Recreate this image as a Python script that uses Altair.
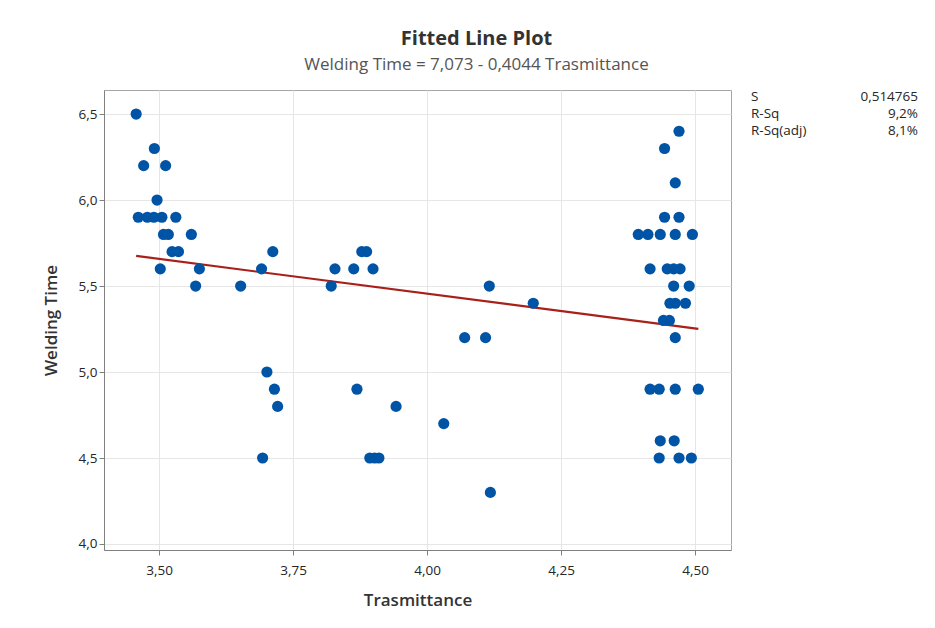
import altair as alt
import pandas as pd

# ---- data ----
trasmittance = [
    3.457, 3.491, 3.471, 3.512, 3.496,
    3.461, 3.478, 3.490, 3.505, 3.531,
    3.508, 3.517, 3.560,
    3.524, 3.536,
    3.502, 3.575,
    3.568, 3.652, 3.691, 3.712,
    3.701, 3.715, 3.721, 3.693,
    3.821, 3.828, 3.863, 3.878, 3.887, 3.899,
    3.869, 3.893, 3.902, 3.910, 3.942,
    4.031, 4.070, 4.109, 4.116, 4.118, 4.198,
    4.470, 4.443, 4.463, 4.443, 4.470,
    4.394, 4.412, 4.435, 4.463, 4.495,
    4.416, 4.448, 4.460, 4.472,
    4.460, 4.489,
    4.453, 4.463, 4.482,
    4.441, 4.452,
    4.463,
    4.416, 4.433, 4.463, 4.506,
    4.435, 4.461,
    4.433, 4.470, 4.493,
]
welding_time = [
    6.5, 6.3, 6.2, 6.2, 6.0,
    5.9, 5.9, 5.9, 5.9, 5.9,
    5.8, 5.8, 5.8,
    5.7, 5.7,
    5.6, 5.6,
    5.5, 5.5, 5.6, 5.7,
    5.0, 4.9, 4.8, 4.5,
    5.5, 5.6, 5.6, 5.7, 5.7, 5.6,
    4.9, 4.5, 4.5, 4.5, 4.8,
    4.7, 5.2, 5.2, 5.5, 4.3, 5.4,
    6.4, 6.3, 6.1, 5.9, 5.9,
    5.8, 5.8, 5.8, 5.8, 5.8,
    5.6, 5.6, 5.6, 5.6,
    5.5, 5.5,
    5.4, 5.4, 5.4,
    5.3, 5.3,
    5.2,
    4.9, 4.9, 4.9, 4.9,
    4.6, 4.6,
    4.5, 4.5, 4.5,
]
INTERCEPT = 7.073
SLOPE = -0.4044
x_ticks = [3.50, 3.75, 4.00, 4.25, 4.50]
y_ticks = [4.0, 4.5, 5.0, 5.5, 6.0, 6.5]
stat_names = ["S", "R-Sq", "R-Sq(adj)"]
stat_values = ["0,514765", "9,2%", "8,1%"]

FONT = "Open Sans"

pts = pd.DataFrame({"Trasmittance": trasmittance, "WeldingTime": welding_time})
line_df = pd.DataFrame({"Trasmittance": [min(trasmittance), max(trasmittance)]})
stats = pd.DataFrame({"name": stat_names, "value": stat_values,
                      "row": list(range(len(stat_names)))})

xscale = alt.Scale(domain=[3.397, 4.567], nice=False, zero=False)
yscale = alt.Scale(domain=[3.965, 6.64], nice=False, zero=False)

x_enc = alt.X("Trasmittance:Q", scale=xscale,
              axis=alt.Axis(values=x_ticks, title="Trasmittance",
                            labelExpr="replace(format(datum.value, '.2f'), '.', ',')"))
y_enc = alt.Y("WeldingTime:Q", scale=yscale,
              axis=alt.Axis(values=y_ticks, title="Welding Time",
                            labelExpr="replace(format(datum.value, '.1f'), '.', ',')"))

points = alt.Chart(pts).mark_circle(size=125, opacity=1, color="#0054A6").encode(
    x=x_enc, y=y_enc)

fit = alt.Chart(line_df).transform_calculate(
    WeldingTime=f"{INTERCEPT} + ({SLOPE}) * datum.Trasmittance"
).mark_line(color="#A8201A", strokeWidth=2.2).encode(x=x_enc, y=y_enc)

row_y = alt.Y("row:Q", scale=alt.Scale(domain=[0, 2], range=[7, 41]), axis=None)
stat_lbl = alt.Chart(stats).mark_text(align="left", baseline="middle", font=FONT,
                                      fontSize=13.5, color="#262626").encode(
    x=alt.value(647), y=row_y, text="name:N")
stat_val = alt.Chart(stats).mark_text(align="right", baseline="middle", font=FONT,
                                      fontSize=13.5, color="#262626").encode(
    x=alt.value(814), y=row_y, text="value:N")

main = alt.layer(fit, points)
table = alt.layer(stat_lbl, stat_val)

chart = alt.layer(main, table).resolve_scale(
    y="independent"
).properties(
    width=627, height=460,
    padding={"left": 96, "top": 82, "right": 196, "bottom": 60},
    autosize=alt.AutoSizeParams(type="none"),
    title=alt.TitleParams(
        text="Fitted Line Plot",
        subtitle="Welding Time = 7,073 - 0,4044 Trasmittance",
        font=FONT, fontSize=20, fontWeight="bold", color="#333333",
        subtitleFont=FONT, subtitleFontSize=17, subtitleColor="#555555",
        subtitlePadding=8, anchor="middle", dx=59, offset=17,
    ),
).configure_view(stroke="#a6a6a6", strokeWidth=1).configure_axis(
    labelFont=FONT, labelFontSize=13.5, labelColor="#262626", labelPadding=2,
    titleFont=FONT, titleFontSize=17, titleFontWeight=600, titleColor="#333333",
    domainColor="#808080", tickColor="#808080", tickSize=5,
    gridColor="#e6e6e6", gridWidth=1,
).configure_axisY(titlePadding=18).configure_axisX(titlePadding=16, labelPadding=8)

chart.save("out.html", embed_options={"renderer": "svg", "actions": False})
